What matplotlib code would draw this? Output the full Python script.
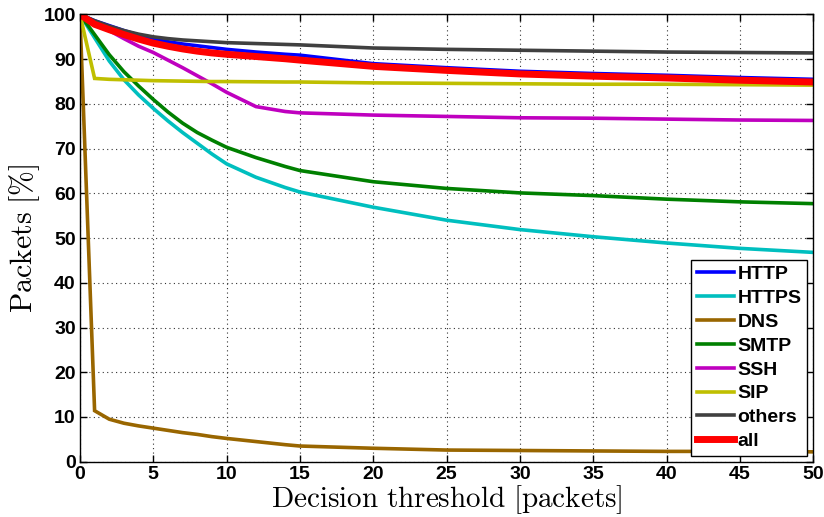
import numpy as np
import matplotlib
matplotlib.use("Agg")
import matplotlib.pyplot as plt

plt.rcParams['mathtext.fontset'] = 'cm'

# decision threshold [packets]
thr = [0, 1, 2, 3, 4, 5, 6, 7, 8, 9, 10, 12, 14, 15, 20, 25, 30, 35, 40, 45, 50]

http = [100, 98.6, 97.5, 96.4, 95.4, 94.5, 93.9, 93.4, 93.0, 92.6, 92.2, 91.6, 91.1, 90.9,
        89.0, 88.1, 87.3, 86.8, 86.4, 85.9, 85.5]
https = [100, 94.8, 89.6, 85.4, 82.0, 79.0, 76.2, 73.6, 71.2, 68.8, 66.6, 63.6, 61.3, 60.3,
         56.9, 54.0, 51.9, 50.3, 48.9, 47.7, 46.8]
dns = [100, 11.4, 9.5, 8.6, 8.0, 7.5, 7.0, 6.5, 6.1, 5.6, 5.2, 4.5, 3.8, 3.5,
       3.0, 2.6, 2.5, 2.4, 2.3, 2.3, 2.2]
smtp = [100, 95.5, 91.0, 87.2, 84.0, 81.0, 78.2, 75.7, 73.6, 71.9, 70.3, 68.0, 66.0, 65.1,
        62.6, 61.1, 60.1, 59.5, 58.7, 58.1, 57.7]
ssh = [100, 98.2, 96.4, 94.6, 92.9, 91.5, 89.8, 88.1, 86.3, 84.5, 82.6, 79.4, 78.3, 78.0,
       77.5, 77.2, 76.9, 76.8, 76.6, 76.4, 76.3]
sip = [100, 85.7, 85.5, 85.4, 85.3, 85.2, 85.15, 85.1, 85.05, 85.0, 85.0, 84.95, 84.9, 84.9,
       84.7, 84.6, 84.5, 84.4, 84.4, 84.3, 84.2]
others = [100, 98.6, 97.4, 96.4, 95.6, 95.0, 94.6, 94.3, 94.1, 93.9, 93.7, 93.5, 93.3, 93.2,
          92.5, 92.2, 92.0, 91.8, 91.6, 91.5, 91.4]
all_ = [100, 97.8, 96.6, 95.5, 94.5, 93.6, 92.9, 92.3, 91.8, 91.4, 91.1, 90.6, 90.1, 89.8,
        88.4, 87.5, 86.7, 86.2, 85.8, 85.3, 84.9]

series = [
    ("HTTP", http, (0, 0, 1), 2.6),
    ("HTTPS", https, (0, 0.75, 0.75), 2.6),
    ("DNS", dns, (0.6, 0.4, 0), 2.6),
    ("SMTP", smtp, (0, 0.5, 0), 2.6),
    ("SSH", ssh, (0.75, 0, 0.75), 2.6),
    ("SIP", sip, (0.75, 0.75, 0), 2.6),
    ("others", others, (0.25, 0.25, 0.25), 2.6),
    ("all", all_, (1, 0, 0), 5.0),
]

fig = plt.figure(figsize=(8.24, 5.17), dpi=100)
ax = fig.add_axes([0.097, 0.107, 0.890, 0.865])

for name, vals, col, lw in series:
    ax.plot(thr, vals, color=col, lw=lw, label=name, solid_joinstyle='miter')

ax.set_xlim(0, 50)
ax.set_ylim(0, 100)
ax.set_xticks(np.arange(0, 51, 5))
ax.set_yticks(np.arange(0, 101, 10))
ax.grid(True, linestyle=(0, (1, 3)), color='0.2', linewidth=0.8)
ax.tick_params(direction='in', top=True, right=True, length=5, width=1, pad=3)
for lab in ax.get_xticklabels() + ax.get_yticklabels():
    lab.set_fontfamily('Liberation Sans')
    lab.set_fontweight('bold')
    lab.set_fontsize(14)
for sp in ax.spines.values():
    sp.set_linewidth(1.0)

ax.set_xlabel(r"$\mathrm{Decision\ threshold\ [packets]}$", fontsize=21, labelpad=0)
ax.set_ylabel(r"$\mathrm{Packets\ [\%]}$", fontsize=21.5, labelpad=1)

leg = ax.legend(loc='lower right', prop={'family': 'Liberation Sans', 'weight': 'bold', 'size': 14},
                frameon=True, fancybox=False, edgecolor='black', framealpha=1,
                handlelength=1.9, handletextpad=0.2, labelspacing=0.32,
                borderaxespad=0.3, borderpad=0.3)
leg.get_frame().set_linewidth(1.0)

fig.savefig("out.png", dpi=100)
